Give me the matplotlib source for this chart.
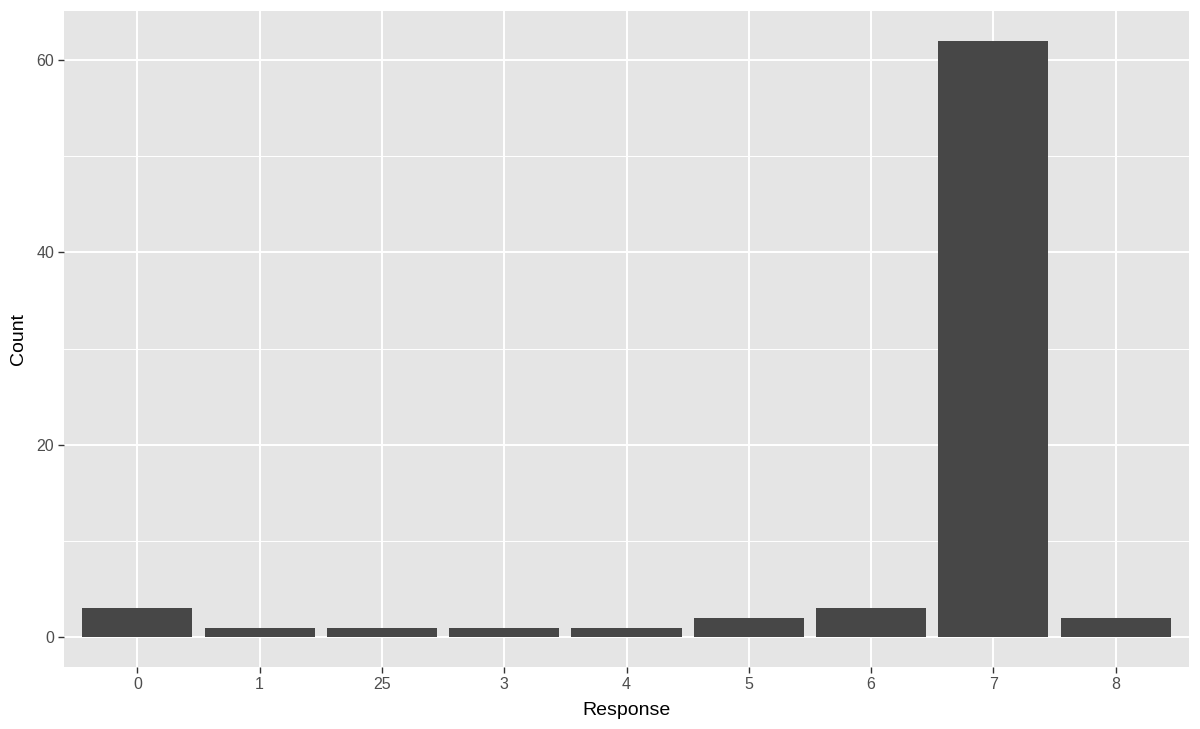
import matplotlib
matplotlib.use("Agg")
import matplotlib.pyplot as plt
from matplotlib.ticker import MultipleLocator

categories = ["0", "1", "25", "3", "4", "5", "6", "7", "8"]
counts = [3, 1, 1, 1, 1, 2, 3, 62, 2]

plt.rcParams['font.family'] = ['Liberation Sans', 'DejaVu Sans']

fig = plt.figure(figsize=(12, 7.29), dpi=100)
W, H = 1200, 729
ax = fig.add_axes([64 / W, (H - 667) / H, (1189 - 64) / W, (667 - 11) / H])
ax.set_facecolor("#E5E5E5")

x = list(range(len(categories)))
ax.bar(x, counts, width=0.9, color="#474747", zorder=3)

ymax = max(counts)
ax.set_xlim(-0.6, len(categories) - 1 + 0.6)
ax.set_ylim(-0.05 * ymax, ymax * 1.05)

ax.set_xticks(x)
ax.set_xticklabels(categories)
ax.yaxis.set_major_locator(MultipleLocator(20))
ax.yaxis.set_minor_locator(MultipleLocator(10))

ax.grid(which="major", color="white", linewidth=1.4, zorder=1)
ax.grid(which="minor", axis="y", color="white", linewidth=0.7, zorder=1)
ax.set_axisbelow(True)

for s in ax.spines.values():
    s.set_visible(False)

ax.tick_params(axis="both", which="major", length=4, width=1, color="#333333",
               labelcolor="#4D4D4D", labelsize=11.5, pad=3)
ax.tick_params(axis="y", which="minor", length=0)

ax.set_xlabel("Response", fontsize=14, color="black", labelpad=7.5)
ax.set_ylabel("Count", fontsize=14, color="black", labelpad=6.5)

fig.savefig("out.png", dpi=100, facecolor="white")
